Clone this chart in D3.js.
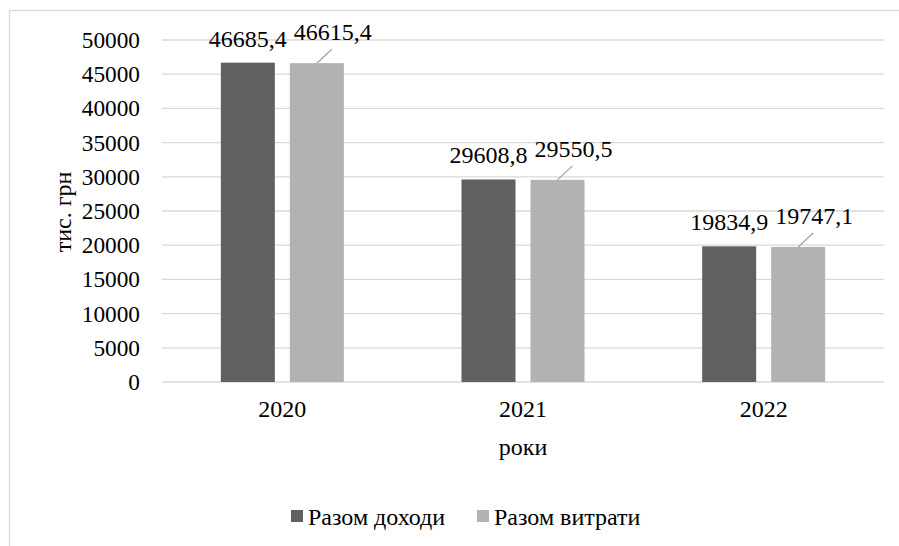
<!DOCTYPE html>
<html><head><meta charset="utf-8">
<script src="https://cdn.jsdelivr.net/npm/d3@7"></script>
</head><body style="margin:0">
<svg id="c" width="899" height="546"></svg>
<script>
const categories = ["2020", "2021", "2022"];
const seriesNames = ["Разом доходи", "Разом витрати"];
const incomeValues = [46685.4, 29608.8, 19834.9];
const expenseValues = [46615.4, 29550.5, 19747.1];
const incomeLabels = ["46685,4", "29608,8", "19834,9"];
const expenseLabels = ["46615,4", "29550,5", "19747,1"];
const yTicks = [0, 5000, 10000, 15000, 20000, 25000, 30000, 35000, 40000, 45000, 50000];
const colors = ["#606060", "#b2b2b2"];

const FONT = "Liberation Serif";
const svg = d3.select("#c");
const x0 = d3.scaleBand().domain(categories).range([162, 884]);
const y = d3.scaleLinear().domain([0, 50000]).range([382, 40]);
const barW = 54, gap = 15;

function txt(sel, size) {
  return sel.style("font-family", FONT).style("font-size", size + "px").attr("fill", "#000");
}

// chart border
svg.append("rect").attr("x", 9.5).attr("y", 10.5).attr("width", 900).attr("height", 560)
  .attr("fill", "none").attr("stroke", "#d9d9d9").attr("stroke-width", 1.3);

// gridlines
svg.append("g").selectAll("line").data(yTicks).join("line")
  .attr("x1", 162).attr("x2", 884)
  .attr("y1", d => y(d)).attr("y2", d => y(d))
  .attr("stroke", "#d9d9d9").attr("stroke-width", 1.3);

// y axis
const ya = svg.append("g").attr("transform", "translate(162,0)")
  .call(d3.axisLeft(y).tickValues(yTicks).tickSize(0).tickPadding(22).tickFormat(d3.format("d")));
ya.attr("font-family", null).attr("font-size", null);
ya.select(".domain").remove();
txt(ya.selectAll("text"), 23.3);

// x axis labels
const xa = svg.append("g").attr("transform", "translate(0,382)")
  .call(d3.axisBottom(x0).tickSize(0).tickPadding(18));
xa.attr("font-family", null).attr("font-size", null);
xa.select(".domain").remove();
txt(xa.selectAll("text"), 24);

// bars
const cx = c => x0(c) + x0.bandwidth() / 2;
const series = [incomeValues, expenseValues];
series.forEach((vals, si) => {
  svg.append("g").selectAll("rect").data(categories).join("rect")
    .attr("x", c => si === 0 ? cx(c) - gap/2 - barW : cx(c) + gap/2)
    .attr("y", (c, i) => y(vals[i]))
    .attr("width", barW)
    .attr("height", (c, i) => y(0) - y(vals[i]))
    .attr("fill", colors[si]);
});

// data labels - income
categories.forEach((c, i) => {
  txt(svg.append("text"), 24)
    .attr("x", cx(c) - gap/2 - barW/2)
    .attr("y", y(incomeValues[i]) - 16)
    .attr("text-anchor", "middle")
    .text(incomeLabels[i]);
});

// data labels - expenses with leader lines
categories.forEach((c, i) => {
  const bx = cx(c) + gap/2 + barW/2, by = y(expenseValues[i]);
  svg.append("line").attr("x1", bx).attr("y1", by).attr("x2", bx + 15).attr("y2", by - 14)
    .attr("stroke", "#a6a6a6").attr("stroke-width", 1.3);
  txt(svg.append("text"), 24)
    .attr("x", bx + 16).attr("y", by - 23)
    .attr("text-anchor", "middle")
    .text(expenseLabels[i]);
});

// axis titles
txt(svg.append("text"), 24).attr("transform", "translate(71,212) rotate(-90)")
  .attr("text-anchor", "middle").text("тис. грн");
txt(svg.append("text"), 24).attr("x", 523).attr("y", 455)
  .attr("text-anchor", "middle").text("роки");

// legend
const legX = [291, 477];
seriesNames.forEach((n, i) => {
  svg.append("rect").attr("x", legX[i]).attr("y", 510).attr("width", 12).attr("height", 12).attr("fill", colors[i]);
  txt(svg.append("text"), 24).attr("x", legX[i] + 17).attr("y", 525).text(n);
});
</script>
</body></html>
